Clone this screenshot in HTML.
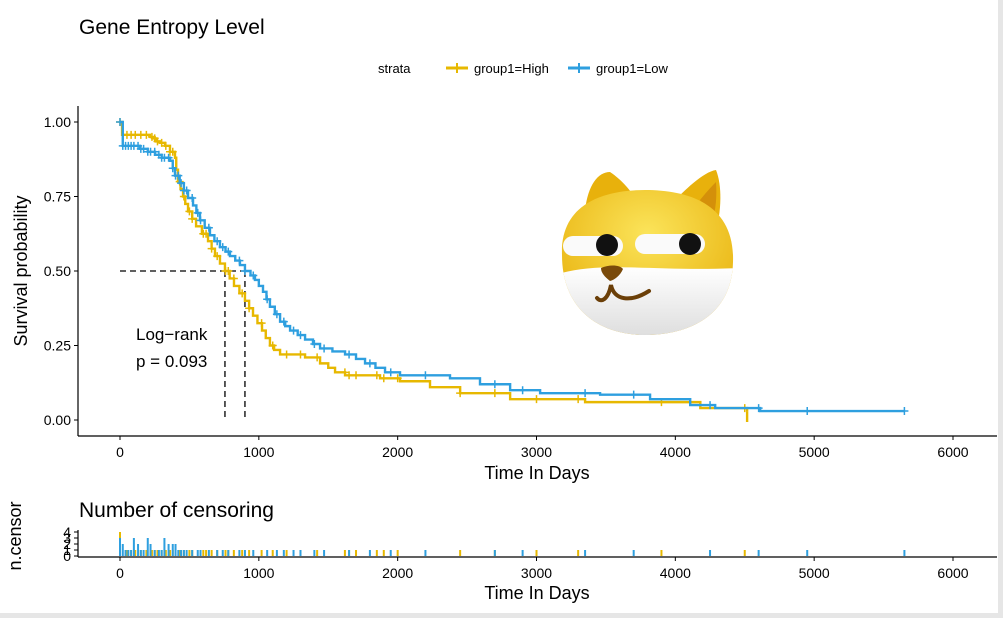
<!DOCTYPE html>
<html><head><meta charset="utf-8"><style>
body{margin:0;background:#fff;}
svg{display:block;font-family:"Liberation Sans",Arial,sans-serif;}
</style></head><body>
<svg id="c" width="1003" height="618" viewBox="0 0 1003 618">
<defs>
<radialGradient id="hy" cx="0.5" cy="0.3" r="0.7"><stop offset="0" stop-color="#fbe45a"/><stop offset="1" stop-color="#e8b10c"/></radialGradient>
<linearGradient id="hw" x1="0" y1="0" x2="0" y2="1"><stop offset="0" stop-color="#ffffff"/><stop offset="1" stop-color="#dcdcdc"/></linearGradient>
<clipPath id="hc"><path d="M562,255 C560,200 610,190 645,190 C690,190 735,205 733,262 C732,315 690,335 645,335 C600,335 562,310 562,255 Z"/></clipPath>
</defs>
<rect x="0" y="0" width="1003" height="618" fill="#fff"/>
<rect x="998" y="0" width="5" height="618" fill="#e6e6e6"/>
<rect x="0" y="613" width="1003" height="5" fill="#e6e6e6"/>
<text x="79" y="34" font-size="21">Gene Entropy Level</text>
<g>
<text x="378" y="73" font-size="13">strata</text>
<line x1="446" y1="68" x2="468" y2="68" stroke="#e7b800" stroke-width="3"/><line x1="457" y1="63" x2="457" y2="73" stroke="#e7b800" stroke-width="2"/>
<text x="474" y="73" font-size="13">group1=High</text>
<line x1="568" y1="68" x2="590" y2="68" stroke="#2e9fdf" stroke-width="3"/><line x1="579" y1="63" x2="579" y2="73" stroke="#2e9fdf" stroke-width="2"/>
<text x="596" y="73" font-size="13">group1=Low</text>
</g>
<g id="main"></g>
<g>
<path d="M585,210 C588,185 598,172 610,172 C622,180 632,192 636,200 Z" fill="#e8b10c"/>
<path d="M670,205 C685,190 703,172 716,170 C722,185 722,210 715,235 Z" fill="#e8b10c"/>
<path d="M700,200 C708,190 714,184 716,182 C717,195 716,210 712,222 Z" fill="#d4900a"/>
<path d="M562,255 C560,200 610,190 645,190 C690,190 735,205 733,262 C732,315 690,335 645,335 C600,335 562,310 562,255 Z" fill="url(#hy)"/>
<path d="M555,275 C600,260 650,272 740,268 L740,340 L555,340 Z" fill="url(#hw)" clip-path="url(#hc)"/>
<rect x="563" y="236" width="60" height="20" rx="10" fill="#fafafa"/>
<rect x="635" y="234" width="70" height="20" rx="10" fill="#fafafa"/>
<circle cx="607" cy="245" r="11" fill="#111"/>
<circle cx="690" cy="244" r="11" fill="#111"/>
<path d="M601,268 C610,264 620,265 623,269 C620,276 614,280 610,281 C605,277 601,273 601,268Z" fill="#7a4a0a"/>
<path d="M597,298 C601,303 608,300 611,285 C614,300 630,303 649,291" fill="none" stroke="#6b3f08" stroke-width="4" stroke-linecap="round"/>
</g>
<g id="bot"></g>
</svg>
<script>
const xTicks=[0,1000,2000,3000,4000,5000,6000];
const yTicks=[0,0.25,0.5,0.75,1.0];
const yTickLabels=["0.00","0.25","0.50","0.75","1.00"];
const highT=[0,15,216,240,260,290,324,360,396,405,418,436,454,470,490,520,548,590,634,660,684,720,756,790,821,860,900,930,958,990,1023,1050,1080,1110,1153,1333,1441,1500,1549,1621,1873,2017,2233,2450,2810,3350,4180,4517];
const highS=[1,0.957,0.95,0.945,0.935,0.93,0.92,0.90,0.88,0.84,0.80,0.775,0.75,0.725,0.70,0.675,0.65,0.625,0.60,0.575,0.55,0.525,0.50,0.475,0.45,0.425,0.40,0.375,0.35,0.325,0.30,0.275,0.25,0.235,0.22,0.21,0.19,0.175,0.16,0.15,0.14,0.13,0.11,0.09,0.07,0.06,0.04,0.03];
const highEnd=4517;
const lowT=[0,20,144,200,252,300,360,380,396,430,460,490,526,550,576,610,648,680,720,760,792,830,864,900,940,972,1000,1030,1055,1080,1115,1153,1190,1225,1280,1333,1390,1441,1530,1621,1700,1765,1840,1909,2017,2377,2593,2810,3026,3458,3818,4107,4287,4611];
const lowS=[1,0.92,0.91,0.90,0.89,0.88,0.87,0.845,0.82,0.795,0.77,0.745,0.72,0.695,0.67,0.645,0.62,0.60,0.58,0.565,0.55,0.535,0.52,0.50,0.485,0.47,0.45,0.43,0.405,0.38,0.355,0.33,0.315,0.30,0.285,0.27,0.255,0.24,0.23,0.22,0.205,0.19,0.175,0.16,0.15,0.14,0.12,0.10,0.09,0.085,0.07,0.05,0.04,0.03];
const lowEnd=5650;
const highCensT=[0,50,80,110,150,190,230,250,270,300,330,360,380,430,460,500,520,600,620,660,700,760,780,820,880,930,1020,1100,1200,1300,1420,1620,1650,1700,1850,1900,2000,2450,2700,3000,3300,3900,4500];
const highCensN=[4,1,1,1,1,1,1,1,1,1,1,1,1,1,1,1,1,1,1,1,1,1,1,1,1,1,1,1,1,1,1,1,1,1,1,1,1,1,1,1,1,1,1];
const lowCensT=[0,20,40,60,80,100,130,150,170,200,220,250,280,300,320,350,380,400,420,440,460,480,520,560,580,640,700,740,780,860,900,960,1060,1130,1180,1250,1300,1400,1470,1650,1800,1950,2200,2700,2900,3350,3700,4250,4600,4950,5650];
const lowCensN=[3,2,1,1,1,3,2,1,1,3,2,1,1,1,3,2,2,2,1,1,1,1,1,1,1,1,1,1,1,1,1,1,1,1,1,1,1,1,1,1,1,1,1,1,1,1,1,1,1,1,1];
const NS='http://www.w3.org/2000/svg';
const X=t=>120+t*(833/6000);
const Y=s=>420-s*298;
const YB=n=>556-n*6;
function mk(tag,attrs,parent){const e=document.createElementNS(NS,tag);for(const k in attrs)e.setAttribute(k,attrs[k]);parent.appendChild(e);return e;}
const main=document.getElementById('main'), bot=document.getElementById('bot');
let a=mk('line',{x1:78,y1:106,x2:78,y2:436,stroke:'#000','stroke-width':1.2},main);


a=mk('line',{x1:78,y1:436,x2:997,y2:436,stroke:'#000','stroke-width':1.2},main);


yTicks.forEach((v,i)=>{mk('line',{x1:74,x2:78,y1:Y(v),y2:Y(v),stroke:'#000'},main);
 const t=mk('text',{x:71,y:Y(v)+5,'font-size':14,'text-anchor':'end'},main);t.textContent=yTickLabels[i];
 
 });
xTicks.forEach(v=>{mk('line',{x1:X(v),x2:X(v),y1:436,y2:440,stroke:'#000'},main);
 const t=mk('text',{x:X(v),y:457,'font-size':14,'text-anchor':'middle'},main);t.textContent=v;
 
 });
let t=mk('text',{x:537,y:479,'font-size':18,'text-anchor':'middle'},main);t.textContent='Time In Days';


t=mk('text',{x:0,y:0,'font-size':18,'text-anchor':'middle',transform:'translate(27,271) rotate(-90)'},main);t.textContent='Survival probability';


mk('path',{d:`M${X(0)},${Y(0.5)}H${X(900)}M${X(756)},${Y(0.5)}V${Y(0)}M${X(900)},${Y(0.5)}V${Y(0)}`,stroke:'#000','stroke-width':1.3,'stroke-dasharray':'6,4',fill:'none'},main);
t=mk('text',{x:136,y:340,'font-size':17},main);t.textContent='Log−rank';


t=mk('text',{x:136,y:367,'font-size':17},main);t.textContent='p = 0.093';


function curve(T,S,end,col,name,cens){
 let d=`M${X(T[0])},${Y(S[0])}`;
 for(let i=1;i<T.length;i++){d+=`H${X(T[i])}V${Y(S[i])}`;}
 d+=`H${X(end)}`;
 const p=mk('path',{d,stroke:col,'stroke-width':2.4,fill:'none'},main);
 
 
 cens.forEach(ct=>{let s=S[0];for(let i=0;i<T.length;i++)if(T[i]<=ct)s=S[i];
  const x=X(ct),y=Y(s);
  const m=mk('path',{d:`M${x-4},${y}H${x+4}M${x},${y-4}V${y+4}`,stroke:col,'stroke-width':1.5},main);
  
  });
}
curve(highT,highS,highEnd,'#e7b800','curve-high',highCensT);
mk('line',{x1:X(highEnd),x2:X(highEnd),y1:Y(0.03),y2:Y(0)+2,stroke:'#e7b800','stroke-width':2.4},main);
curve(lowT,lowS,lowEnd,'#2e9fdf','curve-low',lowCensT);
t=mk('text',{x:79,y:517,'font-size':21},bot);t.textContent='Number of censoring';


a=mk('line',{x1:78,y1:530,x2:78,y2:557,stroke:'#000','stroke-width':1.2},bot);


a=mk('line',{x1:78,y1:557,x2:997,y2:557,stroke:'#000','stroke-width':1.2},bot);


[0,1,2,3,4].forEach(v=>{mk('line',{x1:74,x2:78,y1:YB(v),y2:YB(v),stroke:'#000'},bot);
 const l=mk('text',{x:71,y:YB(v)+5,'font-size':14,'text-anchor':'end'},bot);l.textContent=v;
 
 });
xTicks.forEach(v=>{mk('line',{x1:X(v),x2:X(v),y1:557,y2:561,stroke:'#000'},bot);
 const l=mk('text',{x:X(v),y:578,'font-size':14,'text-anchor':'middle'},bot);l.textContent=v;
 
 });
t=mk('text',{x:537,y:599,'font-size':18,'text-anchor':'middle'},bot);t.textContent='Time In Days';


t=mk('text',{x:0,y:0,'font-size':18,'text-anchor':'middle',transform:'translate(21,536) rotate(-90)'},bot);t.textContent='n.censor';


function bars(T,N,col){T.forEach((ct,i)=>{const r=mk('rect',{x:X(ct)-1,y:YB(N[i]),width:2,height:556-YB(N[i]),fill:col},bot);
 
 });}
bars(highCensT,highCensN,'#e7b800');
bars(lowCensT,lowCensN,'#2e9fdf');
</script>
</body></html>
